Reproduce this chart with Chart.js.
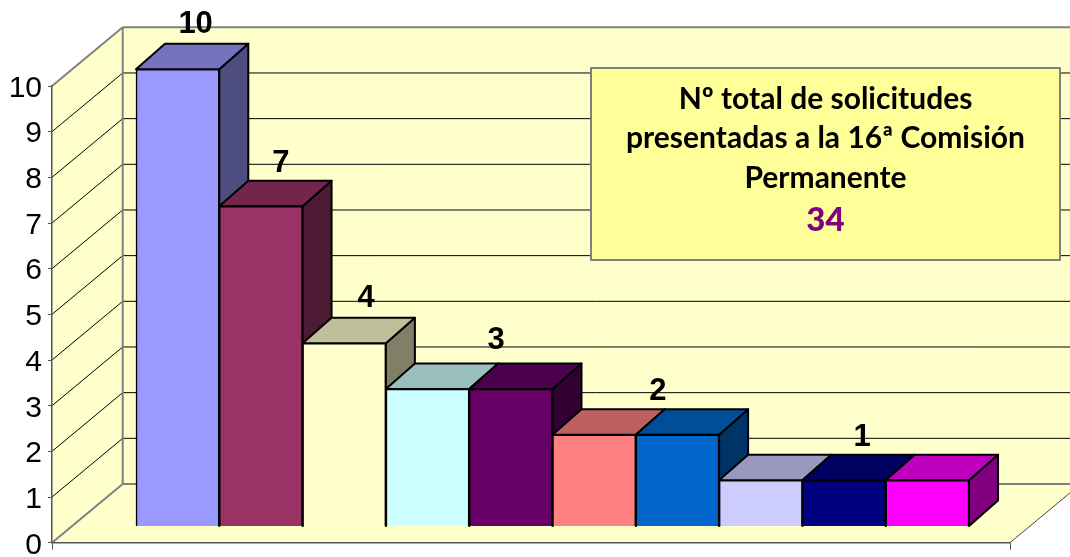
<!DOCTYPE html>
<html><head><meta charset="utf-8">
<style>html,body{margin:0;padding:0;background:#fff}#w{width:1070px;height:557px;position:relative}</style>
<script src="https://cdn.jsdelivr.net/npm/chart.js@4"></script>
</head><body><div id="w"><canvas id="c" width="1070" height="557"></canvas></div>
<script>
const barSlots = [1,2,3,4,5,6,7,8,9,10];
const barValues = [10,7,4,3,3,2,2,1,1,1];
const barColors = ['#9999FF','#993366','#FFFFCC','#CCFFFF','#660066','#FF8080','#0066CC','#CCCCFF','#000080','#FF00FF'];
const valueTicks = [0,1,2,3,4,5,6,7,8,9,10];
const labelSlots = [1,2,3,4.5,6.5,9];
const labelTexts = ['10','7','4','3','2','1'];
const boxLines = ['Nº total de solicitudes','presentadas a la 16ª Comisión','Permanente'];
const boxTotal = '34';

const WALL_DX=70.7, WALL_DY=58.7, BAR_DX=29, BAR_DY=25.5;
const labelDx=[18,20,22,27,22,18], labelDy=[36,34,36,40,35,34];
function shade(hex,f){const n=parseInt(hex.slice(1),16);
  return 'rgb('+[(n>>16)&255,(n>>8)&255,n&255].map(v=>Math.round(v*f)).join(',')+')';}
function poly(ctx,pts,fill,stroke,lw){ctx.beginPath();pts.forEach((p,i)=>i?ctx.lineTo(p[0],p[1]):ctx.moveTo(p[0],p[1]));ctx.closePath();
  if(fill){ctx.fillStyle=fill;ctx.fill();}
  if(stroke){ctx.strokeStyle=stroke;ctx.lineWidth=lw;ctx.lineJoin='round';ctx.stroke();}}
function line(ctx,x1,y1,x2,y2,c,lw){ctx.beginPath();ctx.moveTo(x1,y1);ctx.lineTo(x2,y2);ctx.strokeStyle=c;ctx.lineWidth=lw;ctx.stroke();}

const scene={id:'scene',
  beforeDraw(ch){const {ctx,chartArea:a,scales:{y}}=ch;const W=ch.width;const l=a.left,r=a.right,t=a.top,b=a.bottom;
    ctx.save();
    const wall='#FFFFCC',grey='#808080';
    poly(ctx,[[l+WALL_DX,t-WALL_DY],[W,t-WALL_DY],[W,b-WALL_DY],[l+WALL_DX,b-WALL_DY]],wall);
    poly(ctx,[[l,t],[l+WALL_DX,t-WALL_DY],[l+WALL_DX,b-WALL_DY],[l,b]],wall);
    poly(ctx,[[l,b],[r,b],[r+WALL_DX,b-WALL_DY],[l+WALL_DX,b-WALL_DY]],wall);
    valueTicks.forEach(v=>{if(v===0||v===10)return;const p=y.getPixelForValue(v);
      line(ctx,l,p,l+WALL_DX,p-WALL_DY,'#000',1);
      line(ctx,l+WALL_DX,p-WALL_DY,W,p-WALL_DY,'#000',1);});
    line(ctx,l,t,l+WALL_DX,t-WALL_DY,grey,2);
    line(ctx,l+WALL_DX,t-WALL_DY,W,t-WALL_DY,grey,2);
    line(ctx,l+WALL_DX,t-WALL_DY,l+WALL_DX,b-WALL_DY,grey,2);
    line(ctx,l,b,l+WALL_DX,b-WALL_DY,grey,2);
    line(ctx,l+WALL_DX,b-WALL_DY,W,b-WALL_DY,grey,2);
    line(ctx,r,b,r+WALL_DX,b-WALL_DY,'#444',1);
    ctx.restore();},
  beforeDatasetsDraw(ch){const {ctx}=ch;const bars=ch.getDatasetMeta(0).data;
    ctx.save();
    bars.forEach((el,i)=>{const p=el.getProps(['x','y','base','width'],true);
      const L=p.x-p.width/2,R=p.x+p.width/2,T=p.y,B=p.base;
      poly(ctx,[[R,T],[R+BAR_DX,T-BAR_DY],[R+BAR_DX,B-BAR_DY],[R,B]],shade(barColors[i],.5),'#000',2);
      poly(ctx,[[L,T],[L+BAR_DX,T-BAR_DY],[R+BAR_DX,T-BAR_DY],[R,T]],shade(barColors[i],.75),'#000',2);
    });
    ctx.restore();},
  afterDatasetsDraw(ch){const {ctx,scales:{x,y2}}=ch;
    ctx.save();
    ctx.textAlign='center';ctx.textBaseline='alphabetic';
    ctx.fillStyle='#000';
    ctx.font='bold 31px "Liberation Sans"';
    labelTexts.forEach((s,i)=>{
      ctx.fillText(s,x.getPixelForValue(labelSlots[i])+labelDx[i],y2.getPixelForValue(+s)-labelDy[i]);});
    poly(ctx,[[591,68],[1060,68],[1060,260],[591,260]],'#FFFF99','#808080',2);
    ctx.fillStyle='#000';
    ctx.font='bold 30px Lato';
    const base=[108.5,148,188];
    boxLines.forEach((s,i)=>ctx.fillText(s,825.5,base[i]));
    ctx.fillStyle='#800080';ctx.font='900 33px Lato';
    ctx.fillText(boxTotal,825.5,231);
    ctx.restore();}
};

new Chart(document.getElementById('c'),{
  type:'bar',
  data:{datasets:[{data:barSlots.map((s,i)=>({x:s,y:barValues[i]})),yAxisID:'y2',xAxisID:'x',
    backgroundColor:barColors,borderColor:'#000',borderWidth:1.6,
    barPercentage:1,categoryPercentage:1,clip:false}]},
  options:{responsive:false,animation:false,
    layout:{padding:{left:0,right:60,top:86,bottom:0}},
    plugins:{legend:{display:false},tooltip:{enabled:false}},
    scales:{
      x:{type:'linear',position:'bottom',min:-0.508,max:10.992,offset:false,
        afterBuildTicks(s){s.ticks=[{value:s.min},{value:s.max}];},
        afterFit(s){s.height=14.3;s.paddingLeft=0;s.paddingRight=0;},
        ticks:{display:false,autoSkip:false},
        grid:{offset:false,drawOnChartArea:false,color:'#555',tickLength:7,lineWidth:1},
        border:{color:'#555',width:1.5}},
      y:{position:'left',min:0,max:10,
        afterBuildTicks(s){s.ticks=valueTicks.map(v=>({value:v}));},
        afterFit(s){s.width=52;s.paddingTop=0;s.paddingBottom=0;},
        ticks:{color:'#000',padding:6,autoSkip:false,callback:v=>['',String(v)],
          font:{family:'"Liberation Sans"',size:30,lineHeight:0.17}},
        grid:{drawOnChartArea:false,color:'#555',tickLength:4,lineWidth:1},
        border:{color:'#555',width:1.5}},
      y2:{display:false,min:-0.366,max:9.634}
    }},
  plugins:[scene]
});
</script></body></html>
